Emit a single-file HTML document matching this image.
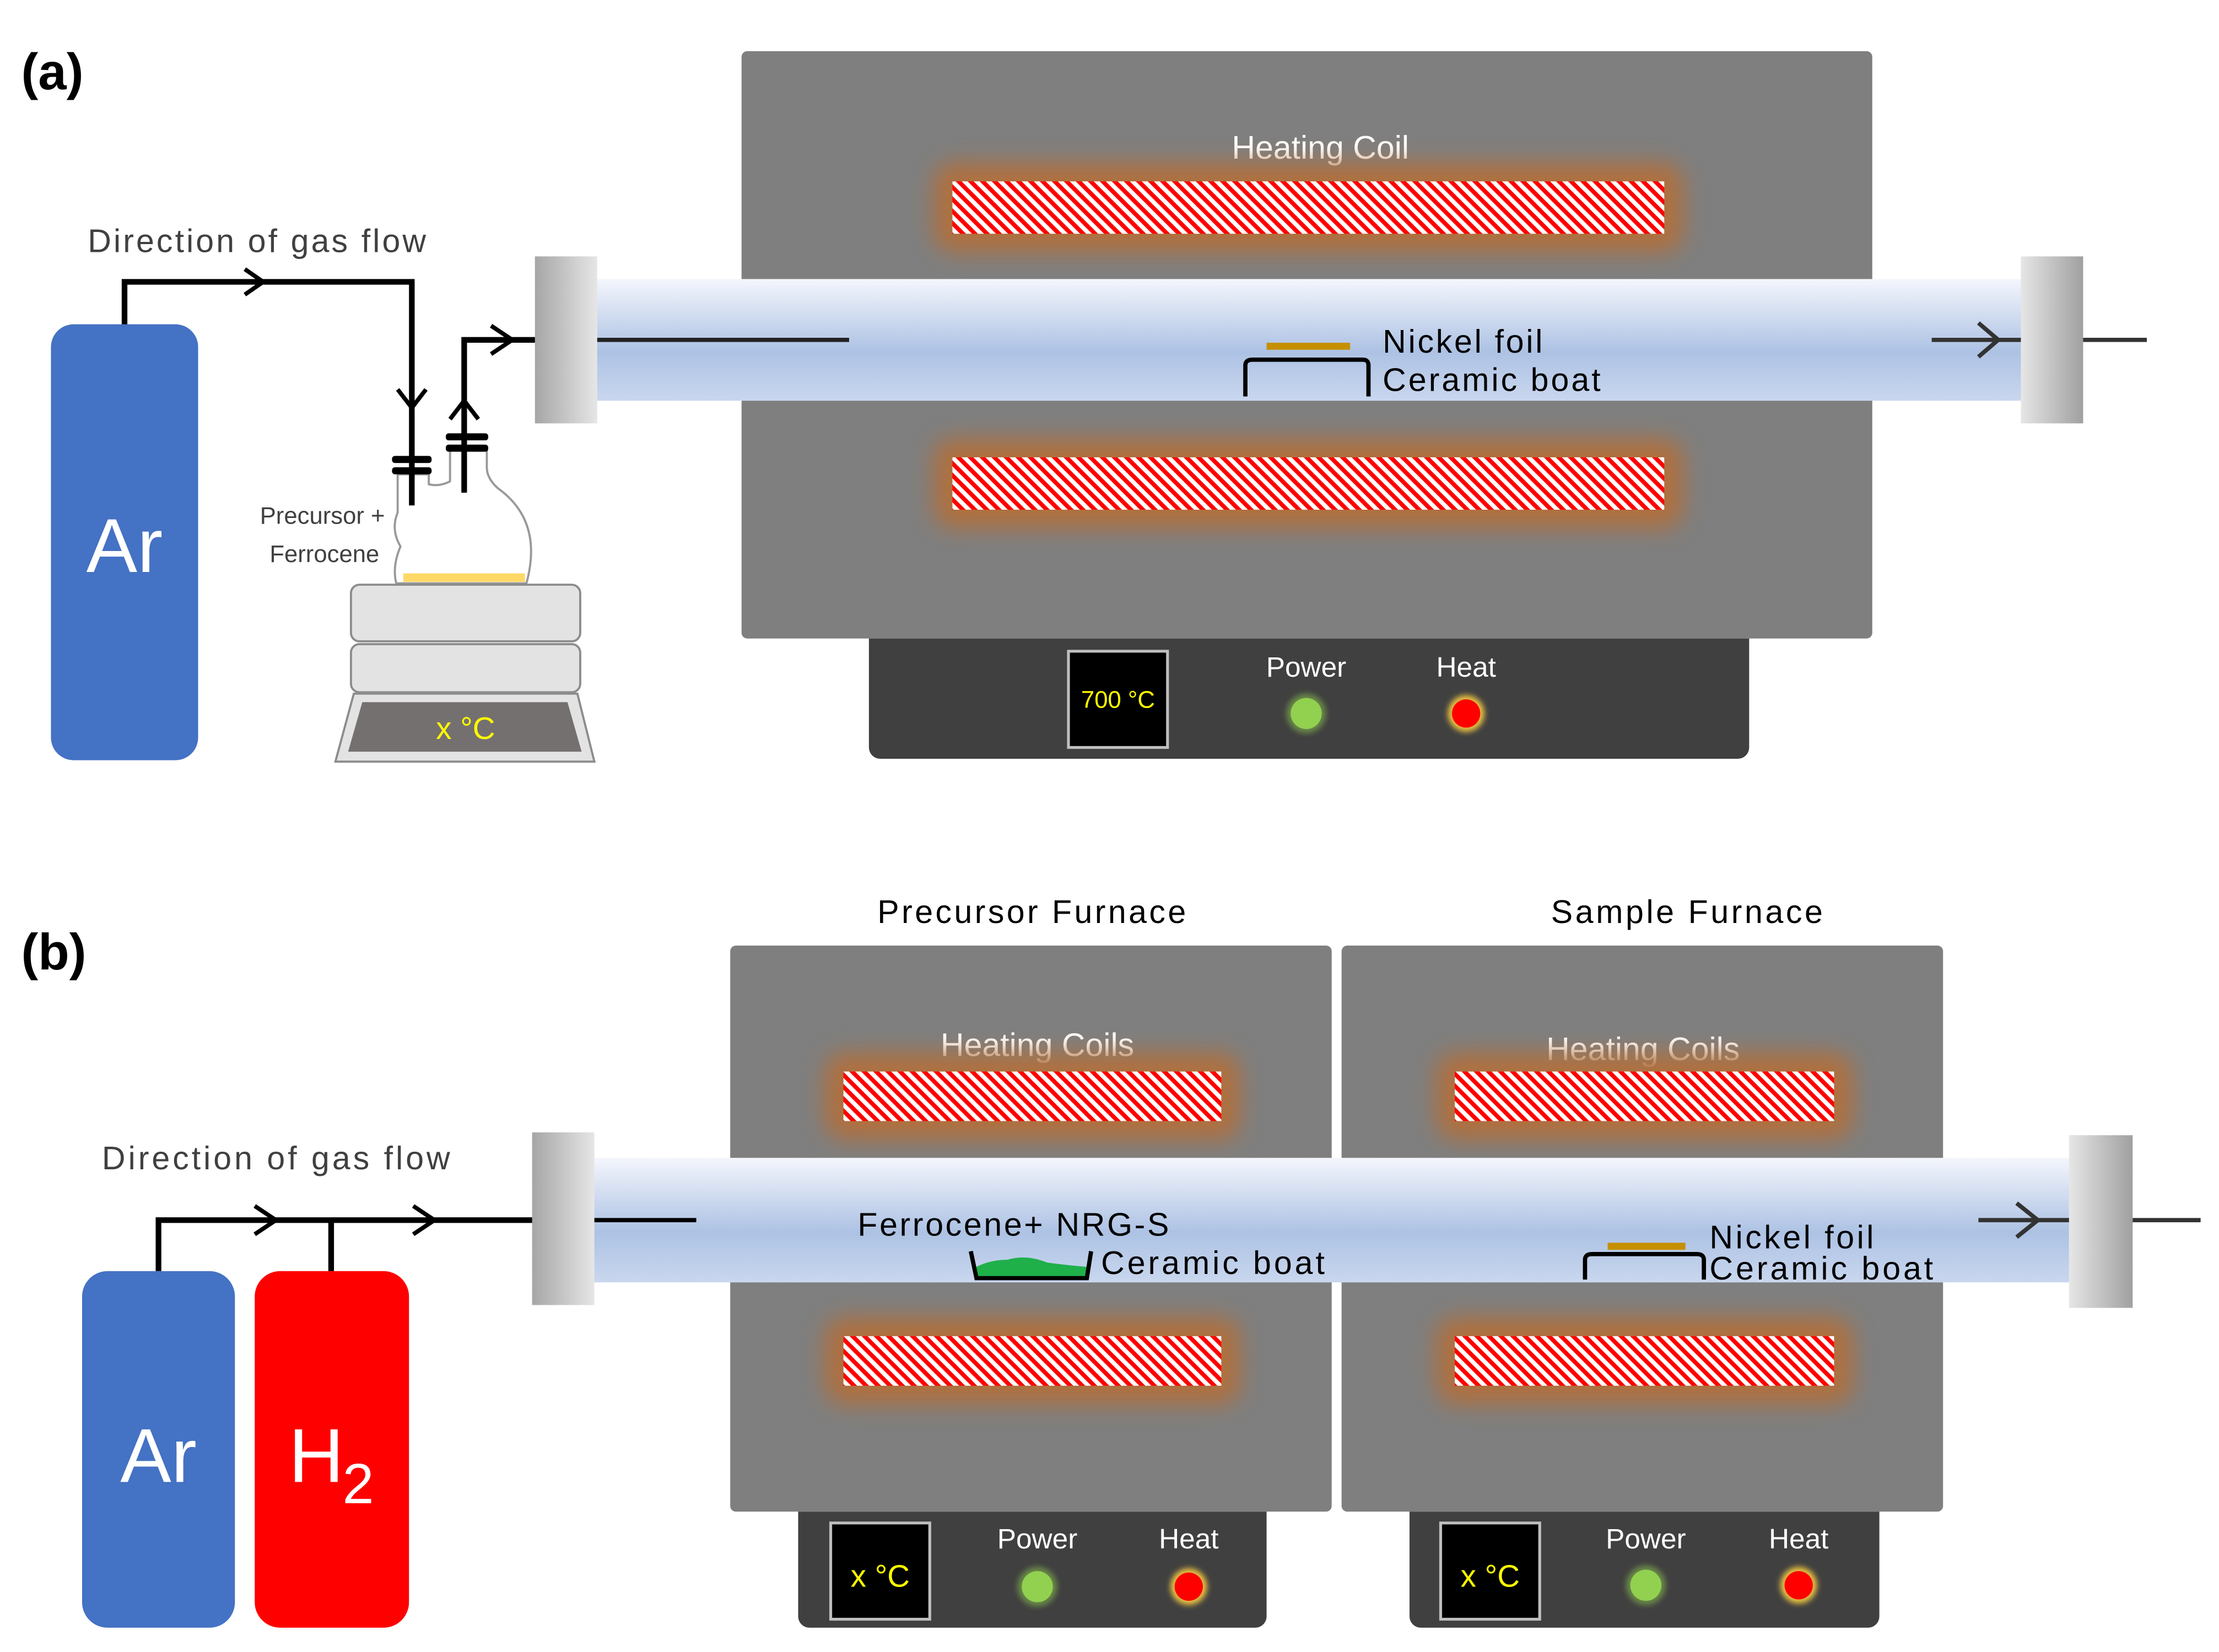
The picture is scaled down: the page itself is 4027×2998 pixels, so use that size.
<!DOCTYPE html>
<html><head><meta charset="utf-8"><style>
html,body{margin:0;padding:0;background:#fff;}
svg{display:block;}
text{font-family:"Liberation Sans",sans-serif;}
</style></head><body>
<svg width="4027" height="2998" viewBox="0 0 1568 1167" xmlns="http://www.w3.org/2000/svg">
<defs>
<pattern id="hatch" patternUnits="userSpaceOnUse" width="6" height="6" patternTransform="rotate(-45)">
<rect width="6" height="6" fill="#ff0000"/><rect width="3" height="6" fill="#fff"/>
</pattern>
<filter id="blur" x="-20%" y="-100%" width="140%" height="300%"><feGaussianBlur stdDeviation="8"/></filter>
<filter id="blur2" x="-100%" y="-100%" width="300%" height="300%"><feGaussianBlur stdDeviation="2"/></filter>
<linearGradient id="tube" x1="0" y1="0" x2="0" y2="1">
<stop offset="0" stop-color="#f4f6fc"/><stop offset="0.6" stop-color="#adc2e4"/><stop offset="1" stop-color="#c9d7ee"/>
</linearGradient>
<linearGradient id="capL" x1="0" y1="0" x2="1" y2="0">
<stop offset="0" stop-color="#a6a6a6"/><stop offset="1" stop-color="#e6e6e6"/>
</linearGradient>
<linearGradient id="capR" x1="0" y1="0" x2="1" y2="0">
<stop offset="0" stop-color="#e6e6e6"/><stop offset="1" stop-color="#a0a0a0"/>
</linearGradient>
</defs>

<!-- ========== (a) ========== -->
<text x="15" y="63" font-size="36" font-weight="bold" fill="#000">(a)</text>

<rect x="524" y="36" width="799" height="415" rx="4" fill="#7f7f7f"/>
<text x="933" y="112" font-size="23" fill="#fff" text-anchor="middle">Heating Coil</text>
<rect x="660" y="115" width="529" height="63" rx="14" fill="#b0703e" filter="url(#blur)"/>
<rect x="673" y="128" width="503" height="37" fill="url(#hatch)"/>
<rect x="660" y="310" width="529" height="63" rx="14" fill="#b0703e" filter="url(#blur)"/>
<rect x="673" y="323" width="503" height="37" fill="url(#hatch)"/>

<path d="M614 451 H1236 V528 a8 8 0 0 1 -8 8 H622 a8 8 0 0 1 -8 -8 Z" fill="#404040"/>
<rect x="755" y="460" width="70" height="68" fill="#000" stroke="#bfbfbf" stroke-width="2"/>
<text x="790" y="500" font-size="17" fill="#ffff00" text-anchor="middle">700 °C</text>
<text x="923" y="478" font-size="20" fill="#fff" text-anchor="middle">Power</text>
<circle cx="923" cy="504" r="14" fill="#92d050" opacity="0.5" filter="url(#blur2)"/>
<circle cx="923" cy="504" r="11" fill="#92d050"/>
<text x="1036" y="478" font-size="20" fill="#fff" text-anchor="middle">Heat</text>
<circle cx="1036" cy="504" r="13" fill="#e8c040" filter="url(#blur2)"/>
<circle cx="1036" cy="504" r="10" fill="#ff0000"/>

<rect x="420" y="197" width="1010" height="86" fill="url(#tube)"/>
<rect x="378" y="181" width="44" height="118" fill="url(#capL)"/>
<rect x="1428" y="181" width="44" height="118" fill="url(#capR)"/>
<line x1="422" y1="240" x2="600" y2="240" stroke="#222" stroke-width="3"/>
<line x1="1365" y1="240" x2="1428" y2="240" stroke="#333" stroke-width="3"/>
<path d="M1398 228 L1412 240 L1398 252" fill="none" stroke="#333" stroke-width="3"/>
<line x1="1472" y1="240" x2="1517" y2="240" stroke="#333" stroke-width="3"/>
<rect x="895" y="242" width="59" height="5" fill="#c59000"/>
<path d="M880 280 V258 Q880 254 885 254 H963 Q967 254 967 258 V280" fill="none" stroke="#000" stroke-width="3"/>
<text x="977" y="249" font-size="23" fill="#000" textLength="113">Nickel foil</text>
<text x="977" y="276" font-size="23" fill="#000" textLength="154">Ceramic boat</text>

<text x="62" y="178" font-size="23" fill="#404040" textLength="239">Direction of gas flow</text>
<path d="M88 229 V199 H291 V357" fill="none" stroke="#000" stroke-width="4"/>
<path d="M173 190 L186 199 L173 208" fill="none" stroke="#000" stroke-width="3"/>
<path d="M281 275 L291 288 L301 275" fill="none" stroke="#000" stroke-width="3"/>
<path d="M328 348 V240 H378" fill="none" stroke="#000" stroke-width="4"/>
<path d="M347 230 L362 240 L347 250" fill="none" stroke="#000" stroke-width="3"/>
<path d="M318 296 L328 283 L338 296" fill="none" stroke="#000" stroke-width="3"/>

<path d="M281 335 V362 Q276 374 283 386 Q277 400 280 412 H372 Q384 368 352 345 Q344 338 344 330 V318 H318 V340 Q310 344 303 342 V335 Z" fill="#fff" stroke="#999" stroke-width="1.5"/>
<rect x="285" y="405" width="86" height="6" fill="#ffd966"/>
<line x1="291" y1="330" x2="291" y2="357" stroke="#000" stroke-width="4"/>
<line x1="328" y1="318" x2="328" y2="348" stroke="#000" stroke-width="4"/>
<rect x="277" y="322" width="28" height="5" rx="2" fill="#000"/>
<rect x="277" y="330" width="28" height="5" rx="2" fill="#000"/>
<rect x="315" y="306" width="30" height="5" rx="2" fill="#000"/>
<rect x="315" y="314" width="30" height="5" rx="2" fill="#000"/>
<text x="272" y="370" font-size="17" fill="#404040" text-anchor="end">Precursor +</text>
<text x="268" y="397" font-size="17" fill="#404040" text-anchor="end">Ferrocene</text>

<rect x="248" y="413" width="162" height="40" rx="6" fill="#e3e3e3" stroke="#8c8c8c" stroke-width="1.5"/>
<rect x="248" y="455" width="162" height="34" rx="6" fill="#e3e3e3" stroke="#8c8c8c" stroke-width="1.5"/>
<path d="M250 490 H408 L420 538 H237 Z" fill="#e3e3e3" stroke="#8c8c8c" stroke-width="1.5"/>
<path d="M256 496 H401 L411 531 H246 Z" fill="#757070"/>
<text x="329" y="522" font-size="22" fill="#ffff00" text-anchor="middle">x °C</text>

<rect x="36" y="229" width="104" height="308" rx="16" fill="#4472c4"/>
<text x="88" y="404" font-size="54" fill="#fff" text-anchor="middle">Ar</text>

<!-- ========== (b) ========== -->
<text x="15" y="685" font-size="36" font-weight="bold" fill="#000">(b)</text>
<text x="729" y="652" font-size="23" fill="#000" text-anchor="middle" textLength="218">Precursor Furnace</text>
<text x="1192" y="652" font-size="23" fill="#000" text-anchor="middle" textLength="192">Sample Furnace</text>

<rect x="516" y="668" width="425" height="400" rx="4" fill="#7f7f7f"/>
<rect x="948" y="668" width="425" height="400" rx="4" fill="#7f7f7f"/>
<text x="733" y="746" font-size="23" fill="#fff" text-anchor="middle">Heating Coils</text>
<text x="1161" y="749" font-size="23" fill="#fff" text-anchor="middle">Heating Coils</text>
<rect x="583" y="744" width="293" height="61" rx="14" fill="#b0703e" filter="url(#blur)"/>
<rect x="596" y="757" width="267" height="35" fill="url(#hatch)"/>
<rect x="583" y="931" width="293" height="61" rx="14" fill="#b0703e" filter="url(#blur)"/>
<rect x="596" y="944" width="267" height="35" fill="url(#hatch)"/>
<rect x="1015" y="744" width="294" height="61" rx="14" fill="#b0703e" filter="url(#blur)"/>
<rect x="1028" y="757" width="268" height="35" fill="url(#hatch)"/>
<rect x="1015" y="931" width="294" height="61" rx="14" fill="#b0703e" filter="url(#blur)"/>
<rect x="1028" y="944" width="268" height="35" fill="url(#hatch)"/>

<path d="M564 1068 H895 V1142 a8 8 0 0 1 -8 8 H572 a8 8 0 0 1 -8 -8 Z" fill="#404040"/>
<rect x="587" y="1076" width="70" height="68" fill="#000" stroke="#bfbfbf" stroke-width="2"/>
<text x="622" y="1121" font-size="22" fill="#ffff00" text-anchor="middle">x °C</text>
<text x="733" y="1094" font-size="20" fill="#fff" text-anchor="middle">Power</text>
<circle cx="733" cy="1121" r="14" fill="#92d050" opacity="0.5" filter="url(#blur2)"/>
<circle cx="733" cy="1121" r="11" fill="#92d050"/>
<text x="840" y="1094" font-size="20" fill="#fff" text-anchor="middle">Heat</text>
<circle cx="840" cy="1121" r="13" fill="#e8c040" filter="url(#blur2)"/>
<circle cx="840" cy="1121" r="10" fill="#ff0000"/>

<path d="M996 1068 H1328 V1142 a8 8 0 0 1 -8 8 H1004 a8 8 0 0 1 -8 -8 Z" fill="#404040"/>
<rect x="1018" y="1076" width="70" height="68" fill="#000" stroke="#bfbfbf" stroke-width="2"/>
<text x="1053" y="1121" font-size="22" fill="#ffff00" text-anchor="middle">x °C</text>
<text x="1163" y="1094" font-size="20" fill="#fff" text-anchor="middle">Power</text>
<circle cx="1163" cy="1120" r="14" fill="#92d050" opacity="0.5" filter="url(#blur2)"/>
<circle cx="1163" cy="1120" r="11" fill="#92d050"/>
<text x="1271" y="1094" font-size="20" fill="#fff" text-anchor="middle">Heat</text>
<circle cx="1271" cy="1120" r="13" fill="#e8c040" filter="url(#blur2)"/>
<circle cx="1271" cy="1120" r="10" fill="#ff0000"/>

<rect x="418" y="818" width="1046" height="88" fill="url(#tube)"/>
<rect x="376" y="800" width="44" height="122" fill="url(#capL)"/>
<rect x="1462" y="802" width="45" height="122" fill="url(#capR)"/>
<line x1="420" y1="862" x2="492" y2="862" stroke="#000" stroke-width="3"/>
<line x1="1398" y1="862" x2="1462" y2="862" stroke="#333" stroke-width="3"/>
<path d="M1425 850 L1440 862 L1425 874" fill="none" stroke="#333" stroke-width="3"/>
<line x1="1507" y1="862" x2="1555" y2="862" stroke="#333" stroke-width="3"/>

<text x="606" y="873" font-size="23" fill="#000" textLength="220">Ferrocene+ NRG-S</text>
<path d="M690 895 Q700 890 712 890 Q725 886 740 892 Q755 894 768 895 V902 H690 Z" fill="#1fb04a"/>
<path d="M686 884 L690 903 H768 L771 884" fill="none" stroke="#000" stroke-width="3"/>
<text x="778" y="900" font-size="23" fill="#000" textLength="158">Ceramic boat</text>

<rect x="1136" y="878" width="55" height="5" fill="#c59000"/>
<path d="M1120 904 V890 Q1120 886 1125 886 H1199 Q1204 886 1204 890 V904" fill="none" stroke="#000" stroke-width="3"/>
<text x="1208" y="882" font-size="23" fill="#000" textLength="116">Nickel foil</text>
<text x="1208" y="904" font-size="23" fill="#000" textLength="158">Ceramic boat</text>

<text x="72" y="826" font-size="23" fill="#404040" textLength="246">Direction of gas flow</text>
<path d="M112 898 V862 H376" fill="none" stroke="#000" stroke-width="4"/>
<line x1="234" y1="862" x2="234" y2="898" stroke="#000" stroke-width="4"/>
<path d="M180 852 L195 862 L180 872" fill="none" stroke="#000" stroke-width="3"/>
<path d="M292 852 L307 862 L292 872" fill="none" stroke="#000" stroke-width="3"/>

<rect x="58" y="898" width="108" height="252" rx="18" fill="#4472c4"/>
<text x="112" y="1047" font-size="54" fill="#fff" text-anchor="middle">Ar</text>
<rect x="180" y="898" width="109" height="252" rx="18" fill="#ff0000"/>
<text x="204" y="1047" font-size="54" fill="#fff">H</text>
<text x="242" y="1062" font-size="40" fill="#fff">2</text>
</svg>
</body></html>
